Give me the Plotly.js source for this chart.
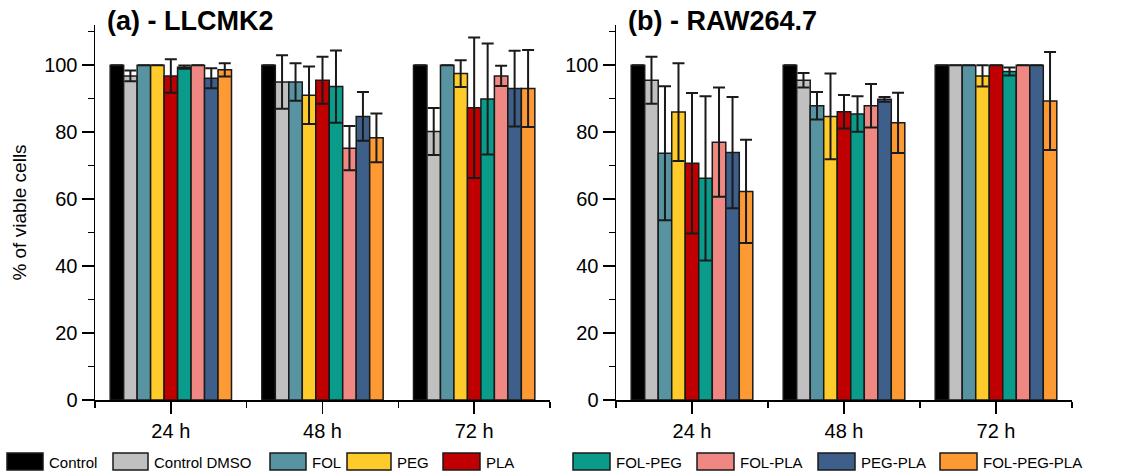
<!DOCTYPE html>
<html>
<head>
<meta charset="utf-8">
<script src="https://cdn.plot.ly/plotly-3.0.1.min.js"></script>
<style>html,body{margin:0;padding:0;background:#fff}#chart{width:1132px;height:472px}</style>
</head>
<body>
<div id="chart"></div>
<script>
// ---- data ----
const timepoints = ['24 h', '48 h', '72 h'];
const series = ['Control', 'Control DMSO', 'FOL', 'PEG', 'PLA', 'FOL-PEG', 'FOL-PLA', 'PEG-PLA', 'FOL-PEG-PLA'];
const panelTitles = ['(a) - LLCMK2', '(b) - RAW264.7'];
const yTitle = '% of viable cells';
const yTicks = [0, 20, 40, 60, 80, 100];

// (a) LLCMK2 : mean and SD for each series, per time point
const meanA_24 = [100, 96.8, 100, 100, 96.8, 99.4, 100, 96.1, 98.6];
const sdA_24   = [null, 1.6, null, null, 5.0, 0.5, null, 3.0, 2.0];
const meanA_48 = [100, 95.0, 95.0, 91.0, 95.5, 93.6, 75.2, 84.7, 78.3];
const sdA_48   = [null, 8.0, 5.6, 8.6, 7.0, 10.8, 6.6, 7.3, 7.3];
const meanA_72 = [100, 80.2, 100, 97.5, 87.3, 89.9, 96.8, 93.0, 93.0];
const sdA_72   = [null, 7.0, null, 4.0, 21.0, 16.6, 3.0, 11.3, 11.5];

// (b) RAW264.7
const meanB_24 = [100, 95.5, 73.7, 86.0, 70.7, 66.2, 77.0, 73.9, 62.3];
const sdB_24   = [null, 7.0, 20.0, 14.6, 21.0, 24.5, 16.3, 16.6, 15.4];
const meanB_48 = [100, 95.5, 87.9, 84.7, 86.1, 85.4, 87.9, 89.8, 82.8];
const sdB_48   = [null, 2.2, 4.1, 12.8, 5.0, 5.3, 6.5, 0.7, 9.0];
const meanB_72 = [100, 100, 100, 96.8, 100, 98.1, 100, 100, 89.3];
const sdB_72   = [null, null, null, 3.2, null, 1.2, null, null, 14.6];

// ---- styles ----
const colors = ['#000000', '#c0c0c0', '#5793a0', '#fecb2a', '#c00000', '#0a9b8b', '#ef8782', '#3e5f8a', '#fe9a34'];
const FONT = 'Liberation Sans, Arial, sans-serif';
const W = 1132, H = 472, ML = 95, MR = 60, MT = 25, MB = 72;
const PW = W - ML - MR, PH = H - MT - MB;
const px = p => (p - ML) / PW;
const py = p => (H - MB - p) / PH;

const panels = [
  {means: [meanA_24, meanA_48, meanA_72], sds: [sdA_24, sdA_48, sdA_72], xa: 'x', ya: 'y'},
  {means: [meanB_24, meanB_48, meanB_72], sds: [sdB_24, sdB_48, sdB_72], xa: 'x2', ya: 'y2'}
];
const xpos = timepoints.map((t, i) => i);

const traces = [];
panels.forEach(p => {
  series.forEach((s, k) => {
    traces.push({
      type: 'bar',
      name: s,
      x: xpos,
      y: p.means.map(m => m[k]),
      error_y: {type: 'data', array: p.sds.map(d => d[k]), visible: true, color: '#1a1a1a', thickness: 2, width: 6},
      marker: {color: colors[k], line: {color: '#1a1a1a', width: 1.5}},
      xaxis: p.xa, yaxis: p.ya,
      showlegend: false,
      hoverinfo: 'skip'
    });
  });
});

const xaxisBase = {
  range: [-0.5, 2.5], tickmode: 'array', tickvals: xpos, ticktext: timepoints,
  showline: true, linecolor: '#000', linewidth: 1.5, mirror: false,
  ticks: 'outside', ticklen: 12, tickwidth: 1.5, tickcolor: '#000',
  minor: {tickmode: 'array', tickvals: [-0.5, 0.5, 1.5, 2.5], ticks: 'outside', ticklen: 6, tickwidth: 1.5, tickcolor: '#000'},
  showgrid: false, zeroline: false, fixedrange: true,
  tickfont: {family: FONT, size: 20, color: '#000'}
};
const yaxisBase = {
  range: [0, 112], tickmode: 'array', tickvals: yTicks,
  showline: true, linecolor: '#000', linewidth: 1.5,
  ticks: 'outside', ticklen: 12, tickwidth: 1.5, tickcolor: '#000',
  minor: {dtick: 10, tick0: 0, ticks: 'outside', ticklen: 6, tickwidth: 1.5, tickcolor: '#000'},
  showgrid: false, zeroline: false, fixedrange: true,
  tickfont: {family: FONT, size: 20, color: '#000'}
};

const shapes = [], annotations = [];
panelTitles.forEach((t, i) => {
  annotations.push({text: '<b>' + t + '</b>', xref: 'paper', yref: 'paper',
    x: i === 0 ? px(105) : px(626), y: py(21), xanchor: 'left', yanchor: 'middle',
    showarrow: false, font: {family: FONT, size: 27, color: '#000'}});
});

// custom legend (swatch + label)
const legX = [7, 113, 270, 347, 443, 573, 697, 818, 940];
const legW = [36, 35, 36, 44, 37, 37, 37, 37, 37];
series.forEach((s, k) => {
  shapes.push({type: 'rect', xref: 'paper', yref: 'paper',
    x0: px(legX[k]), x1: px(legX[k] + legW[k]), y0: py(470), y1: py(453),
    fillcolor: colors[k], line: {color: '#1a1a1a', width: 1.5}});
  annotations.push({text: s, xref: 'paper', yref: 'paper',
    x: px(legX[k] + legW[k] + 4), y: py(462), xanchor: 'left', yanchor: 'middle',
    showarrow: false, font: {family: FONT, size: 15, color: '#000'}});
});

const layout = {
  width: W, height: H,
  margin: {l: ML, r: MR, t: MT, b: MB, pad: 0},
  paper_bgcolor: '#fff', plot_bgcolor: '#fff',
  barmode: 'group', bargap: 0.2, bargroupgap: 0,
  showlegend: false,
  font: {family: FONT, color: '#000'},
  xaxis: Object.assign({}, xaxisBase, {domain: [0, px(550)], anchor: 'y'}),
  xaxis2: Object.assign({}, xaxisBase, {domain: [px(616), 1], anchor: 'y2'}),
  yaxis: Object.assign({}, yaxisBase, {anchor: 'x', domain: [0, 1],
    title: {text: yTitle, font: {family: FONT, size: 19, color: '#000'}, standoff: 12}}),
  yaxis2: Object.assign({}, yaxisBase, {anchor: 'x2', domain: [0, 1]}),
  shapes: shapes,
  annotations: annotations
};

Plotly.newPlot('chart', traces, layout, {displayModeBar: false, staticPlot: true});
</script>
</body>
</html>
